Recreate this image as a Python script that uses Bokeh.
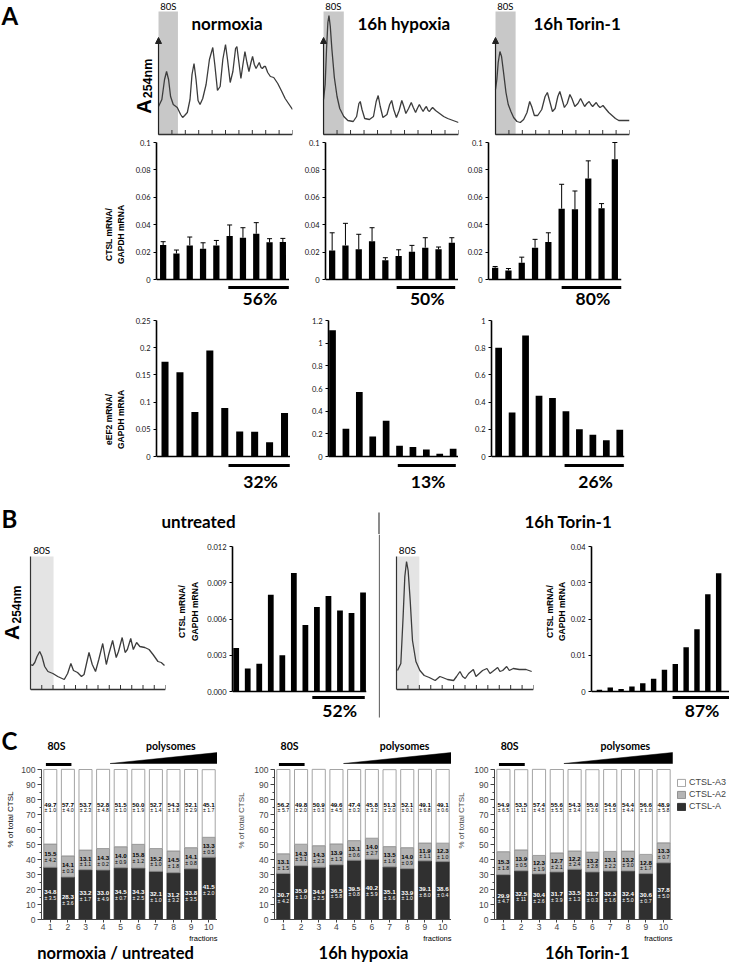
import numpy as np
from bokeh.plotting import figure
from bokeh.models import (ColumnDataSource, Span, Label, Whisker, TeeHead, Arrow, NormalHead,
                          FixedTicker, Legend, LegendItem, Range1d)
from bokeh.layouts import row, column
from bokeh.core.properties import value
from bokeh.embed import file_html
from bokeh.resources import INLINE

LATO = "Lato"
ARI = "Liberation Sans"

# ======================= DATA =======================
fractions9 = list(range(1, 10))
fractions10 = list(range(1, 11))
fractions12 = list(range(1, 13))
gradient10 = list(range(0, 11))
gradient12 = list(range(0, 13))

# Panel A - polysome profiles (x: gradient position in fractions, y: A254nm, arbitrary units)
profA_norm_x = [0.0, 0.25, 0.45, 0.6, 0.75, 0.9, 1.1, 1.4, 1.65, 1.8, 1.95, 2.15, 2.35, 2.5, 2.65, 2.8, 2.95, 3.1, 3.3,
                3.55, 3.8, 4.05, 4.2, 4.4, 4.6, 4.8, 5.0, 5.15, 5.35, 5.55, 5.75, 5.85, 6.0, 6.15, 6.3, 6.45, 6.6,
                6.75, 6.9, 7.02, 7.15, 7.28, 7.4, 7.52, 7.65, 7.75, 7.88, 7.98, 8.15, 8.35, 8.6, 8.9, 9.2, 9.45,
                9.7, 10.0]
profA_norm_y = [28, 35, 55, 63, 55, 38, 30, 27, 20, 17, 19, 22, 35, 60, 71, 55, 34, 30, 36,
                50, 75, 87, 70, 44, 48, 75, 90, 75, 52, 63, 86, 88, 72, 56, 70, 83, 72,
                63, 72, 78, 70, 66, 69, 72, 67, 66, 68, 68, 62, 58, 57, 51, 43, 36,
                31, 25]
profA_hyp_x = [0.0, 0.12, 0.22, 0.32, 0.4, 0.5, 0.62, 0.8, 1.0, 1.2, 1.5, 1.8, 2.2, 2.45, 2.62, 2.72, 2.85, 3.05,
               3.4, 3.7, 3.9, 4.05, 4.2, 4.4, 4.7, 4.9, 5.05, 5.2, 5.4, 5.6, 5.8, 5.95, 6.1, 6.3, 6.5, 6.65,
               6.82, 6.95, 7.1, 7.25, 7.38, 7.5, 7.62, 7.75, 7.85, 7.95, 8.08, 8.3, 8.6, 8.9, 9.2, 9.6, 10.0]
profA_hyp_y = [35, 50, 85, 112, 119, 108, 85, 57, 38, 26, 18, 14, 13, 18, 31, 33, 25, 16,
               15, 18, 33, 39, 28, 17, 20, 30, 34, 25, 17, 24, 34, 28, 21, 26, 32, 27,
               22, 26, 30, 26, 23, 26, 28, 24, 23, 25, 27, 24, 21, 18, 16, 14, 12]
profA_tor_x = [0.0, 0.1, 0.2, 0.33, 0.45, 0.6, 0.78, 0.95, 1.15, 1.35, 1.6, 1.85, 2.1, 2.35, 2.55, 2.7, 2.9, 3.15,
               3.45, 3.7, 3.87, 4.05, 4.25, 4.45, 4.65, 4.8, 4.95, 5.14, 5.35, 5.55, 5.7, 5.92, 6.15, 6.35, 6.5,
               6.65, 6.82, 6.99, 7.12, 7.25, 7.38, 7.52, 7.65, 7.8, 7.92, 8.02, 8.2, 8.45, 8.7, 8.95, 9.2, 9.6, 10.0]
profA_tor_y = [45, 55, 72, 83, 78, 62, 42, 30, 23, 17, 13, 12, 15, 22, 33, 28, 19, 19,
               25, 38, 42, 33, 23, 26, 38, 43, 36, 27, 31, 40, 36, 28, 31, 36, 32,
               28, 31, 33, 30, 28, 30, 32, 29, 27, 28, 29, 26, 22, 19, 16, 14, 14, 14]

# Panel A - CTSL mRNA / GAPDH mRNA (mean, error)
ctsl_norm = [0.0251, 0.019, 0.0249, 0.0224, 0.0249, 0.0317, 0.0305, 0.0334, 0.0271, 0.0273]
ctsl_norm_err = [0.0025, 0.0025, 0.0061, 0.0044, 0.0036, 0.0081, 0.0073, 0.0081, 0.0027, 0.0027]
ctsl_hyp = [0.0212, 0.0249, 0.022, 0.028, 0.0141, 0.0171, 0.0202, 0.0232, 0.022, 0.0268]
ctsl_hyp_err = [0.0129, 0.0161, 0.011, 0.0098, 0.0018, 0.0046, 0.0047, 0.0073, 0.0017, 0.0037]
ctsl_tor = [0.0085, 0.0066, 0.0122, 0.0232, 0.0273, 0.0517, 0.0512, 0.0737, 0.052, 0.0878]
ctsl_tor_err = [0.001, 0.0014, 0.0041, 0.0061, 0.0068, 0.0178, 0.0134, 0.0129, 0.0034, 0.0122]
ctsl_pct = ["56%", "50%", "80%"]
ctsl_ticks = [0, 0.02, 0.04, 0.06, 0.08, 0.1]
ctsl_tick_labels = ["0", "0.02", "0.04", "0.06", "0.08", "0.1"]

# Panel A - eEF2 mRNA / GAPDH mRNA
eef2_norm = [0.174, 0.155, 0.082, 0.195, 0.089, 0.046, 0.0455, 0.0264, 0.080]
eef2_hyp = [1.114, 0.245, 0.569, 0.177, 0.315, 0.094, 0.083, 0.062, 0.024, 0.068]
eef2_tor = [0.799, 0.324, 0.889, 0.447, 0.43, 0.332, 0.201, 0.16, 0.12, 0.197]
eef2_pct = ["32%", "13%", "26%"]
eef2_norm_ticks = [0, 0.05, 0.1, 0.15, 0.2, 0.25]
eef2_norm_labels = ["0", "0.05", "0.1", "0.15", "0.2", "0.25"]
eef2_hyp_ticks = [0, 0.2, 0.4, 0.6, 0.8, 1, 1.2]
eef2_hyp_labels = ["0", "0.2", "0.4", "0.6", "0.8", "1", "1.2"]
eef2_tor_ticks = [0, 0.2, 0.4, 0.6, 0.8, 1]
eef2_tor_labels = ["0", "0.2", "0.4", "0.6", "0.8", "1"]

# Panel B - polysome profiles (x: gradient position in fractions 0-12)
profB_untr_x = [0.0, 0.18, 0.38, 0.58, 0.82, 1.02, 1.26, 1.55, 1.99, 2.42, 3.0, 3.3, 3.59, 3.82, 4.18, 4.53,
                4.76, 5.2, 5.49, 5.78, 6.07, 6.42, 6.74, 6.95, 7.3, 7.62, 7.82, 8.15, 8.41, 8.61, 8.91, 9.14,
                9.43, 9.72, 10.16, 10.54, 10.89, 11.33, 11.62, 11.91]
profB_untr_y = [25, 24, 27, 33, 38, 33, 23, 18, 16, 13, 10, 16, 26, 19, 17, 13,
                15, 37, 25, 18, 30, 46, 25, 35, 49, 32, 38, 52, 37, 40, 51, 40,
                47, 43, 42, 40, 35, 28, 27, 24]
profB_tor_x = [0.09, 0.38, 0.58, 0.73, 0.88, 1.02, 1.2, 1.4, 1.7, 2.05, 2.43, 2.87, 3.39, 3.8, 4.04, 4.47,
               5.0, 5.26, 5.56, 5.79, 6.02, 6.32, 6.73, 6.96, 7.25, 7.54, 7.92, 8.19, 8.42, 8.86, 9.06, 9.3,
               9.65, 9.88, 10.23, 10.76, 11.35, 11.84]
profB_tor_y = [19, 26, 73, 113, 128, 119, 89, 49, 28, 19, 14, 12, 9, 13, 12, 10,
               9, 13, 18, 13, 11, 16, 20, 13, 16, 19, 21, 16, 18, 22, 18, 19,
               23, 19, 21, 20, 20, 18]

# Panel B - CTSL mRNA / GAPDH mRNA
b_ctsl_untr = [0.0036, 0.0019, 0.0023, 0.0080, 0.0030, 0.0098, 0.0055, 0.0070, 0.0079, 0.0067, 0.0065, 0.0082]
b_ctsl_tor = [0.0005, 0.0011, 0.0007, 0.0014, 0.0023, 0.0035, 0.0060, 0.0076, 0.0122, 0.0172, 0.0268, 0.0326]
b_pct = ["52%", "87%"]
b_untr_ticks = [0, 0.003, 0.006, 0.009, 0.012]
b_untr_labels = ["0.000", "0.003", "0.006", "0.009", "0.012"]
b_tor_ticks = [0, 0.01, 0.02, 0.03, 0.04]
b_tor_labels = ["0", "0.01", "0.02", "0.03", "0.04"]

# Panel C - % of total CTSL per fraction
c_norm_A = [34.8, 28.3, 33.2, 33.0, 34.5, 34.3, 32.1, 31.2, 33.8, 41.5]
c_norm_A_sd = [3.5, 3.6, 1.7, 4.9, 0.7, 2.5, 1.0, 3.2, 3.5, 2.0]
c_norm_A2 = [15.5, 14.1, 13.1, 14.3, 14.0, 15.8, 15.2, 14.5, 14.1, 13.3]
c_norm_A2_sd = [4.2, 0.3, 1.1, 0.2, 0.9, 1.2, 1.0, 1.8, 0.8, 0.5]
c_norm_A3 = [49.7, 57.7, 53.7, 52.8, 51.5, 50.0, 52.7, 54.3, 52.1, 45.1]
c_norm_A3_sd = [1.0, 4.0, 2.3, 4.8, 1.0, 1.9, 1.4, 1.8, 2.9, 1.7]

c_hyp_A = [30.7, 35.9, 34.9, 36.5, 39.5, 40.2, 35.1, 33.9, 39.1, 38.6]
c_hyp_A_sd = [4.2, 1.0, 2.5, 5.8, 0.8, 5.9, 3.6, 1.0, 8.0, 0.4]
c_hyp_A2 = [13.1, 14.3, 14.3, 13.9, 13.1, 14.0, 13.5, 14.0, 11.9, 12.3]
c_hyp_A2_sd = [1.5, 3.1, 2.3, 1.3, 0.6, 2.7, 1.6, 0.9, 1.1, 1.0]
c_hyp_A3 = [56.2, 49.8, 50.9, 49.6, 47.4, 45.8, 51.3, 52.1, 49.1, 49.1]
c_hyp_A3_sd = [5.7, 2.0, 0.3, 4.5, 0.3, 3.2, 2.0, 0.1, 6.8, 0.6]

c_tor_A = [29.9, 32.5, 30.4, 31.7, 33.5, 31.7, 32.3, 32.4, 30.6, 37.8]
c_tor_A_sd = [4.7, 11, 2.6, 3.9, 1.3, 0.3, 1.6, 5.0, 0.7, 5.0]
c_tor_A2 = [15.3, 13.9, 12.3, 12.7, 12.2, 13.2, 13.1, 13.2, 12.8, 13.3]
c_tor_A2_sd = [1.8, 0.5, 1.9, 2.1, 2.4, 2.8, 2.2, 3.0, 1.7, 0.7]
c_tor_A3 = [54.9, 53.5, 57.4, 55.6, 54.3, 55.0, 54.6, 54.4, 56.6, 48.9]
c_tor_A3_sd = [6.5, 11, 4.5, 5.5, 3.4, 2.6, 1.5, 4.4, 1.0, 5.8]

c_series = ["CTSL-A", "CTSL-A2", "CTSL-A3"]
c_ticks = list(range(0, 101, 10))
c_minor = list(range(0, 101, 5))


# ======================= HELPERS =======================
class Geo:
    def __init__(s, left, width, fl, fr, xr, height, ft, fb, yr):
        s.left, s.width, s.fl, s.fr, s.xr = left, width, fl, fr, xr
        s.height, s.ft, s.fb, s.yr = height, ft, fb, yr

    def X(s, cx):
        return s.xr[0] + (cx - s.fl) * (s.xr[1] - s.xr[0]) / (s.fr - s.fl)

    def Y(s, ry):
        return s.yr[1] - (ry - s.ft) * (s.yr[1] - s.yr[0]) / (s.fb - s.ft)


def make_fig(g, xaxis=False, yaxis=False):
    p = figure(width=g.width, height=g.height,
               x_range=Range1d(g.xr[0], g.xr[1]), y_range=Range1d(g.yr[0], g.yr[1]),
               min_border_left=g.fl - g.left, min_border_right=g.left + g.width - g.fr,
               min_border_top=g.ft, min_border_bottom=g.height - g.fb,
               x_axis_location="below" if xaxis else None,
               y_axis_location="left" if yaxis else None,
               output_backend="svg", toolbar_location=None)
    p.outline_line_color = None
    p.xgrid.grid_line_color = None
    p.ygrid.grid_line_color = None
    p.background_fill_color = "white"
    p.border_fill_color = "white"
    return p


def blank(left, width, height, ft=0, fb=None):
    fb = height if fb is None else fb
    g = Geo(left, width, left, left + width, (0, width), height, ft, fb, (0, fb - ft))
    return make_fig(g), g


def lab(p, x, y, text, size, font=LATO, style="bold", align="center", base="middle", angle=0, color="black"):
    p.add_layout(Label(x=x, y=y, text=text, text_font=font, text_font_size=f"{size}px",
                       text_font_style=style, text_align=align, text_baseline=base, angle=angle,
                       text_color=color))


def yscale(height, top_px, zero_px, ymax):
    k = (zero_px - top_px) / ymax
    return (-(height - zero_px) / k, ymax + top_px / k)


def profile(g, xs, ys, grad, box_end, box_top, box_color, arrow_top=None):
    p = make_fig(g, xaxis=False, yaxis=(arrow_top is None))
    p.quad(left=[0], right=[box_end], bottom=[0], top=[box_top], fill_color=box_color, line_color=None)
    p.line(xs, ys, line_color="#3c3c3c", line_width=1.3)
    # fraction-collection baseline with one tick per fraction boundary
    p.segment(x0=[grad[0]], y0=[0], x1=[grad[-1]], y1=[0], line_color="#333333", line_width=1.3)
    p.segment(x0=grad, y0=[0] * len(grad), x1=grad, y1=[4.5] * len(grad), line_color="#333333", line_width=1)
    if arrow_top is not None:
        p.add_layout(Arrow(end=NormalHead(size=6, fill_color="#222222", line_color="#222222"),
                           x_start=0, y_start=0, x_end=0, y_end=arrow_top,
                           line_color="#222222", line_width=1.2))
    else:
        ya = p.yaxis[0]
        ya.ticker = FixedTicker(ticks=[])
        ya.bounds = (0, box_top)
        ya.axis_line_color = "#333333"
        ya.axis_line_width = 1.2
        ya.major_tick_in = 0
        ya.major_tick_out = 0
        ya.minor_tick_in = 0
        ya.minor_tick_out = 0
    return p


def bar_chart(g, xs, vals, ymax, ticks, tick_labels, bar_w, pct, span, under_y, pct_y, errs=None,
              tick_font=7.5):
    p = make_fig(g, xaxis=False, yaxis=True)
    src = ColumnDataSource(dict(x=xs, top=vals))
    p.vbar(x="x", top="top", width=bar_w, source=src, fill_color="black", line_color=None)
    if errs is not None:
        src.data["up"] = [v + e for v, e in zip(vals, errs)]
        p.add_layout(Whisker(source=src, base="x", lower="top", upper="up", line_color="black",
                             line_width=1, upper_head=TeeHead(size=5, line_width=1, line_color="black"),
                             lower_head=None))
    p.add_layout(Span(location=0, dimension="width", line_color="black", line_width=1.6))
    ya = p.yaxis[0]
    ya.ticker = FixedTicker(ticks=ticks)
    ya.major_label_overrides = {t: l for t, l in zip(ticks, tick_labels)}
    ya.bounds = (0, ymax)
    ya.axis_line_color = "black"
    ya.axis_line_width = 1.6
    ya.major_tick_out = 3
    ya.major_tick_in = 0
    ya.minor_tick_out = 0
    ya.minor_tick_in = 0
    ya.major_label_standoff = 3
    ya.major_label_text_font = LATO
    ya.major_label_text_font_size = f"{tick_font}px"
    ya.major_label_text_color = "#111111"
    p.segment(x0=[span[0]], y0=[under_y], x1=[span[1]], y1=[under_y], line_color="black", line_width=3)
    lab(p, (span[0] + span[1]) / 2 + 0.1, pct_y, pct, 17.5)
    return p


def fmt_sd(s):
    return f"± {s:.0f}" if s >= 10 else f"± {s:.1f}"


def c_chart(g, A, A_sd, A2, A2_sd, A3, A3_sd, ylabel=True):
    p = make_fig(g, xaxis=True, yaxis=True)
    src = ColumnDataSource(dict(x=fractions10, A=A, A2=A2, A3=A3))
    rs = p.vbar_stack(["A", "A2", "A3"], x="x", width=0.74, source=src,
                      fill_color=["#303030", "#b4b4b4", "white"],
                      line_color=["#2a2a2a", "#8a8a8a", "#9a9a9a"], line_width=0.9)
    ym_A = [a / 2 + 0.9 for a in A]
    ys_A = [a / 2 - 2.9 for a in A]
    ym_A2 = [a + b / 2 + 0.9 for a, b in zip(A, A2)]
    ys_A2 = [a + b / 2 - 2.9 for a, b in zip(A, A2)]
    ym_A3 = [76.6 for _ in A3]
    ys_A3 = [72.8 for _ in A3]
    for ys_, txt, col, sz, st in [
        (ym_A, [f"{v:.1f}" for v in A], "white", 6.2, "bold"),
        (ys_A, [fmt_sd(s) for s in A_sd], "white", 5.2, "normal"),
        (ym_A2, [f"{v:.1f}" for v in A2], "black", 6.2, "bold"),
        (ys_A2, [fmt_sd(s) for s in A2_sd], "black", 5.2, "normal"),
        (ym_A3, [f"{v:.1f}" for v in A3], "black", 6.2, "bold"),
        (ys_A3, [fmt_sd(s) for s in A3_sd], "black", 5.2, "normal")]:
        s2 = ColumnDataSource(dict(x=fractions10, y=ys_, t=txt))
        p.text(x="x", y="y", text="t", source=s2, text_color=col, text_font=value(ARI),
               text_font_size=value(f"{sz}px"), text_font_style=st, text_align="center",
               text_baseline="middle")
    # header: 80S bar and polysome wedge
    p.segment(x0=[0.75], y0=[103.3], x1=[2.2], y1=[103.3], line_color="black", line_width=3)
    p.patch([4.4, 10.5, 10.5], [104, 104, 111.3], fill_color="black", line_color="black", line_width=0.5)
    lab(p, 1.35, 116, "80S", 10.5)
    lab(p, 7.85, 116, "polysomes", 10.5)
    ya = p.yaxis[0]
    ya.ticker = FixedTicker(ticks=c_ticks, minor_ticks=c_minor)
    ya.bounds = (0, 100)
    if ylabel:
        ya.axis_label = "% of total CTSL"
        ya.axis_label_text_font = ARI
        ya.axis_label_text_font_size = "8px"
        ya.axis_label_text_font_style = "normal"
        ya.axis_label_standoff = 5
    ya.major_label_text_font = ARI
    ya.major_label_text_font_size = "8.5px"
    ya.major_label_standoff = 2
    ya.major_tick_out = 4
    ya.major_tick_in = 0
    ya.minor_tick_out = 2
    ya.minor_tick_in = 0
    ya.axis_line_color = "#444444"
    ya.major_tick_line_color = "#444444"
    ya.minor_tick_line_color = "#444444"
    xa = p.xaxis[0]
    xa.ticker = FixedTicker(ticks=fractions10)
    xa.bounds = (0.5, 10.5)
    xa.major_label_text_font = ARI
    xa.major_label_text_font_size = "8.5px"
    xa.major_label_standoff = 1
    xa.major_tick_out = 3
    xa.major_tick_in = 0
    xa.minor_tick_out = 0
    xa.minor_tick_in = 0
    xa.axis_line_color = "#444444"
    xa.major_tick_line_color = "#444444"
    return p, rs


# ======================= BAND 1: Panel A profiles =======================
H1 = 137
L1, gL1 = blank(0, 154, H1)
lab(L1, 1, H1 - 15, "A", 24, align="left")
lab(L1, 143, H1 - 106, "A", 20, font=ARI, angle=np.pi / 2)
lab(L1, 147, H1 - 78, "254nm", 12.5, font=ARI, angle=np.pi / 2)
yrP = (-3, 134)
gP1 = Geo(154, 165, 154, 292, (-0.3, 10), H1, 0, H1, yrP)
gP2 = Geo(319, 172, 319, 458, (-0.3, 10), H1, 0, H1, yrP)
gP3 = Geo(491, 144, 491, 629, (-0.3, 10), H1, 0, H1, yrP)
P1 = profile(gP1, profA_norm_x, profA_norm_y, gradient10, 1.45, 123, "#c8c8c8", arrow_top=97)
P2 = profile(gP2, profA_hyp_x, profA_hyp_y, gradient10, 1.5, 123, "#c8c8c8", arrow_top=97)
P3 = profile(gP3, profA_tor_x, profA_tor_y, gradient10, 1.5, 123, "#c8c8c8", arrow_top=97)
for p, g, t, tx in [(P1, gP1, "normoxia", 191), (P2, gP2, "16h hypoxia", 357), (P3, gP3, "16h Torin-1", 533)]:
    lab(p, 0.73, 128.5, "80S", 9.5, style="normal")
    lab(p, g.X(tx), 111, t, 17, align="left")
band1 = row(L1, P1, P2, P3)

# ======================= BAND 2: CTSL bars =======================
H2 = 172
L2, gL2 = blank(0, 126, H2)
lab(L2, 108.5, H2 - 97, "CTSL mRNA/", 8.5, font=ARI, angle=np.pi / 2)
lab(L2, 120, H2 - 97, "GAPDH mRNA", 8.5, font=ARI, angle=np.pi / 2)
yr2 = yscale(H2, 5, 142, 0.1)
gC1 = Geo(126, 163, 156, 289, (0.5, 10.5), H2, 0, H2, yr2)
gC2 = Geo(289, 169, 325, 458, (0.5, 10.5), H2, 0, H2, yr2)
gC3 = Geo(458, 165, 488, 621, (0.5, 10.5), H2, 0, H2, yr2)
uy2, py2 = gC1.Y(150), gC1.Y(161)
C1 = bar_chart(gC1, fractions10, ctsl_norm, 0.1, ctsl_ticks, ctsl_tick_labels, 0.47, ctsl_pct[0], (5.9, 10.45), uy2, py2, ctsl_norm_err)
C2 = bar_chart(gC2, fractions10, ctsl_hyp, 0.1, ctsl_ticks, ctsl_tick_labels, 0.47, ctsl_pct[1], (5.85, 10.25), uy2, py2, ctsl_hyp_err)
C3 = bar_chart(gC3, fractions10, ctsl_tor, 0.1, ctsl_ticks, ctsl_tick_labels, 0.47, ctsl_pct[2], (6.0, 10.5), uy2, py2, ctsl_tor_err)
band2 = row(L2, C1, C2, C3)

# ======================= BAND 3: eEF2 bars =======================
H3 = 191
L3, gL3 = blank(0, 126, H3)
lab(L3, 108.5, H3 - 110, "eEF2 mRNA/", 8.5, font=ARI, angle=np.pi / 2)
lab(L3, 120, H3 - 110, "GAPDH mRNA", 8.5, font=ARI, angle=np.pi / 2)
gD1 = Geo(126, 164, 156, 290, (0.43, 9.4), H3, 0, H3, yscale(H3, 11, 147, 0.25))
gD2 = Geo(290, 168, 328, 458, (0.7, 10.4), H3, 0, H3, yscale(H3, 11, 147, 1.2))
gD3 = Geo(458, 171, 491, 624, (0.47, 10.35), H3, 0, H3, yscale(H3, 11, 147, 1.0))
D1 = bar_chart(gD1, fractions9, eef2_norm, 0.25, eef2_norm_ticks, eef2_norm_labels, 0.47, eef2_pct[0], (5.25, 9.35), gD1.Y(156), gD1.Y(172))
D2 = bar_chart(gD2, fractions10, eef2_hyp, 1.2, eef2_hyp_ticks, eef2_hyp_labels, 0.5, eef2_pct[1], (5.87, 10.2), gD2.Y(156), gD2.Y(172))
D3 = bar_chart(gD3, fractions10, eef2_tor, 1.0, eef2_tor_ticks, eef2_tor_labels, 0.5, eef2_pct[2], (5.9, 10.3), gD3.Y(156), gD3.Y(172))
band3 = row(L3, D1, D2, D3)

# ======================= BAND B =======================
HS = 34
BS, gS = blank(0, 729, HS)
lab(BS, 1, HS - 18, "B", 24, align="left")
lab(BS, 161, HS - 21, "untreated", 17, align="left")
lab(BS, 524, HS - 21, "16h Torin-1", 17, align="left")
BS.segment(x0=[378.5], y0=[0], x1=[378.5], y1=[HS - 12], line_color="#6f6f6f", line_width=1.6)

HB = 187
yrBP = (-32, 155)
LB, gLB = blank(0, 25, HB)
lab(LB, 11, HB - 98, "A", 21, font=ARI, angle=np.pi / 2)
lab(LB, 16, HB - 70, "254nm", 12, font=ARI, angle=np.pi / 2)
gBP1 = Geo(25, 145, 30, 165, (0, 12), HB, 0, HB, yrBP)
BP1 = profile(gBP1, profB_untr_x, profB_untr_y, gradient12, 2.05, 133, "#e4e4e4")
lab(BP1, 1.0, 140, "80S", 10, style="normal")

LB1, gLB1 = blank(170, 34, HB)
lab(LB1, 11, HB - 77, "CTSL mRNA/", 8.5, font=ARI, angle=np.pi / 2)
lab(LB1, 24, HB - 77, "GAPDH mRNA", 8.5, font=ARI, angle=np.pi / 2)
gBC1 = Geo(204, 174, 232, 366, (0.68, 12.3), HB, 0, HB, yscale(HB, 12, 157, 0.012))
BC1 = bar_chart(gBC1, fractions12, b_ctsl_untr, 0.012, b_untr_ticks, b_untr_labels, 0.5, b_pct[0],
                (7.6, 12.15), gBC1.Y(163), gBC1.Y(176))

SEP, gSEP = blank(378, 2, HB)
SEP.segment(x0=[1], y0=[4], x1=[1], y1=[HB], line_color="#6f6f6f", line_width=1.6)

gBP2 = Geo(380, 160, 396, 533, (0, 12), HB, 0, HB, yrBP)
BP2 = profile(gBP2, profB_tor_x, profB_tor_y, gradient12, 2.0, 133, "#e4e4e4")
lab(BP2, 0.95, 140, "80S", 10, style="normal")

LB2, gLB2 = blank(540, 27, HB)
lab(LB2, 9, HB - 77, "CTSL mRNA/", 8.5, font=ARI, angle=np.pi / 2)
lab(LB2, 21.5, HB - 77, "GAPDH mRNA", 8.5, font=ARI, angle=np.pi / 2)
gBC2 = Geo(567, 162, 590, 729, (0.27, 13.0), HB, 0, HB, yscale(HB, 12, 157, 0.04))
BC2 = bar_chart(gBC2, fractions12, b_ctsl_tor, 0.04, b_tor_ticks, b_tor_labels, 0.5, b_pct[1],
                (7.75, 13.0), gBC2.Y(163), gBC2.Y(176))
bandB = row(LB, BP1, LB1, BC1, SEP, BP2, LB2, BC2)

# ======================= BAND C =======================
HC = 212
FBC = 198
ycr = (0, 100 + 48 / 1.5)
LC, gLC = blank(0, 18, HC, 0, FBC)
lab(LC, 1, FBC - 18.5, "C", 24, align="left")
lab(LC, 9.5, FBC - 98, "% of total CTSL", 8, font=ARI, style="normal", angle=np.pi / 2)
gE1 = Geo(18, 199, 39, 217, (0.5, 10.5), HC, 0, FBC, ycr)
gE2 = Geo(217, 234, 274, 451, (0.5, 10.5), HC, 0, FBC, ycr)
gE3 = Geo(451, 278, 494, 729, (0.5, 0.5 + 235 / 17.8), HC, 0, FBC, ycr)
E1, _ = c_chart(gE1, c_norm_A, c_norm_A_sd, c_norm_A2, c_norm_A2_sd, c_norm_A3, c_norm_A3_sd, ylabel=False)
E2, _ = c_chart(gE2, c_hyp_A, c_hyp_A_sd, c_hyp_A2, c_hyp_A2_sd, c_hyp_A3, c_hyp_A3_sd)
E3, rs3 = c_chart(gE3, c_tor_A, c_tor_A_sd, c_tor_A2, c_tor_A2_sd, c_tor_A3, c_tor_A3_sd)
legend = Legend(items=[LegendItem(label=c_series[2], renderers=[rs3[2]]),
                       LegendItem(label=c_series[1], renderers=[rs3[1]]),
                       LegendItem(label=c_series[0], renderers=[rs3[0]])],
                location=(182, 108), glyph_width=10, glyph_height=9, label_height=9,
                label_text_font=ARI, label_text_font_size="9px", label_standoff=3, spacing=2,
                padding=0, margin=0, border_line_color=None, background_fill_alpha=0)
E3.add_layout(legend)
bandC = row(LC, E1, E2, E3)

HCS = 29
CS, gCS = blank(0, 729, HCS)
for xr_, xt, t in [(217, 115, "normoxia / untreated"), (451, 363, "16h hypoxia"), (672, 587, "16h Torin-1")]:
    lab(CS, xr_, HCS - 5, "fractions", 7.5, font=ARI, style="normal", align="right")
    lab(CS, xt, HCS - 19, t, 16.5)

layout = column(band1, band2, band3, BS, bandB, bandC, CS)
open("out.html", "w").write(file_html(layout, INLINE))
